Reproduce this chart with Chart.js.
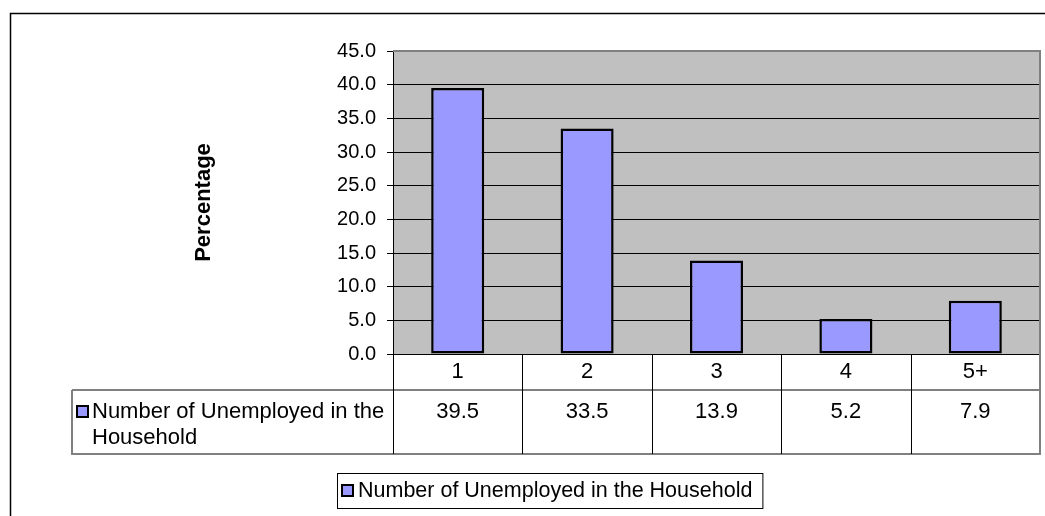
<!DOCTYPE html>
<html lang="en">
<head>
  <meta charset="UTF-8">
  <title>Number of Unemployed in the Household</title>
  <script src="https://cdn.jsdelivr.net/npm/chart.js"></script>
  <style>
    body {
      margin: 0;
      background: #fff;
    }
    .wrap {
      width: 1045px;
      height: 516px;
      position: relative;
    }
  </style>
</head>
<body>
<div class="wrap">
  <canvas id="unemployedChart"></canvas>
</div>

<script>
  const categories = ['1', '2', '3', '4', '5+'];
  const seriesName = 'Number of Unemployed in the Household';
  const seriesValues = [39.5, 33.5, 13.9, 5.2, 7.9];
  const yMin = 0;
  const yMax = 45;
  const yStep = 5;

  const barColor = '#9999FF';
  const plotGray = '#C0C0C0';
  const lineGray = '#808080';
  const fontFamily = '"Liberation Sans", Arial, sans-serif';

  Chart.defaults.font.family = fontFamily;
  Chart.defaults.color = '#000';

  // wrap a label into lines that fit a width
  function wrapText(ctx, text, maxW) {
    const words = text.split(' ');
    const lines = [];
    let line = '';
    words.forEach(w => {
      const test = line ? line + ' ' + w : w;
      if (ctx.measureText(test).width > maxW && line) {
        lines.push(line);
        line = w;
      } else {
        line = test;
      }
    });
    if (line) lines.push(line);
    return lines;
  }

  function legendKey(ctx, x, y) {
    ctx.fillStyle = barColor;
    ctx.fillRect(x, y, 11, 11);
    ctx.strokeStyle = '#000';
    ctx.lineWidth = 2;
    ctx.strokeRect(x, y, 11, 11);
  }

  // plot background + outer frame
  const backdrop = {
    id: 'backdrop',
    beforeDraw(chart) {
      const { ctx, chartArea: a } = chart;
      ctx.save();
      ctx.fillStyle = plotGray;
      ctx.fillRect(a.left, a.top, a.right - a.left, a.bottom - a.top);

      ctx.strokeStyle = '#000';
      ctx.lineWidth = 1.5;
      ctx.beginPath();
      ctx.moveTo(10.5, chart.height + 5);
      ctx.lineTo(10.5, 13.5);
      ctx.lineTo(chart.width + 5, 13.5);
      ctx.stroke();
      ctx.restore();
    }
  };

  // data table under the plot and the legend box
  const dataTable = {
    id: 'dataTable',
    afterDraw(chart) {
      const { ctx, chartArea: a } = chart;
      const xs = chart.scales.x;
      const n = categories.length;
      const colW = (a.right - a.left) / n;
      const row1Bottom = 390;
      const row2Bottom = 454;
      const tableLeft = 72;

      ctx.save();

      // plot border (top/right)
      ctx.strokeStyle = lineGray;
      ctx.lineWidth = 2;
      ctx.beginPath();
      ctx.moveTo(a.left, a.top);
      ctx.lineTo(a.right, a.top);
      ctx.lineTo(a.right, a.bottom);
      ctx.stroke();

      // horizontal table lines + outer gray border
      ctx.beginPath();
      ctx.moveTo(tableLeft, row1Bottom);
      ctx.lineTo(a.right, row1Bottom);
      ctx.moveTo(tableLeft, row1Bottom);
      ctx.lineTo(tableLeft, row2Bottom);
      ctx.lineTo(a.right, row2Bottom);
      ctx.lineTo(a.right, a.bottom);
      ctx.stroke();

      // vertical column separators
      ctx.strokeStyle = '#000';
      ctx.lineWidth = 1;
      ctx.beginPath();
      for (let i = 0; i < n; i++) {
        const x = Math.round(xs.getPixelForValue(i) - colW / 2) + 0.5;
        ctx.moveTo(x, a.bottom);
        ctx.lineTo(x, row2Bottom);
      }
      ctx.stroke();

      // category labels and values
      ctx.font = '22px ' + fontFamily;
      ctx.fillStyle = '#000';
      ctx.textAlign = 'center';
      ctx.textBaseline = 'middle';
      categories.forEach((c, i) => {
        const cx = xs.getPixelForValue(i);
        ctx.fillText(c, cx, 372);
        ctx.fillText(seriesValues[i].toFixed(1), cx, 412);
      });

      // series name cell with legend key
      legendKey(ctx, 77, 406);
      ctx.fillStyle = '#000';
      ctx.textAlign = 'left';
      const lines = wrapText(ctx, seriesName, a.left - 94);
      lines.forEach((l, i) => ctx.fillText(l, 92, 412 + i * 26));

      // legend box
      ctx.font = '21.5px ' + fontFamily;
      const textW = ctx.measureText(seriesName).width;
      const textX = 358;
      const boxL = textX - 21;
      const boxR = textX + textW + 10;
      ctx.lineWidth = 1;
      ctx.strokeStyle = '#000';
      ctx.strokeRect(boxL + 0.5, 473.5, boxR - boxL, 35);
      legendKey(ctx, 342, 485);
      ctx.fillStyle = '#000';
      ctx.fillText(seriesName, textX, 491);

      ctx.restore();
    }
  };

  const ctx = document.getElementById('unemployedChart').getContext('2d');
  new Chart(ctx, {
    type: 'bar',
    data: {
      labels: categories,
      datasets: [{
        label: seriesName,
        data: seriesValues,
        backgroundColor: barColor,
        borderColor: '#000',
        borderWidth: 2.5,
        borderSkipped: false,
        barPercentage: 0.41,
        categoryPercentage: 1
      }]
    },
    options: {
      responsive: true,
      maintainAspectRatio: false,
      animation: false,
      layout: {
        padding: { left: 0, top: 51, right: 5, bottom: 162 }
      },
      plugins: {
        legend: { display: false },
        tooltip: { enabled: false }
      },
      scales: {
        x: {
          display: false,
          offset: true
        },
        y: {
          min: yMin,
          max: yMax,
          afterFit(scale) { scale.width = 393; },
          ticks: {
            stepSize: yStep,
            padding: 11,
            color: '#000',
            font: { size: 20 },
            callback: v => Number(v).toFixed(1)
          },
          grid: {
            color: c => (c.tick && c.tick.value === yMax ? lineGray : '#000'),
            tickColor: '#000',
            tickLength: 6,
            lineWidth: 1
          },
          border: { display: true, color: '#000', width: 1 },
          title: {
            display: true,
            text: 'Percentage',
            color: '#000',
            font: { size: 22, weight: 'bold' },
            padding: { top: 191, bottom: 0 }
          }
        }
      }
    },
    plugins: [backdrop, dataTable]
  });
</script>
</body>
</html>
